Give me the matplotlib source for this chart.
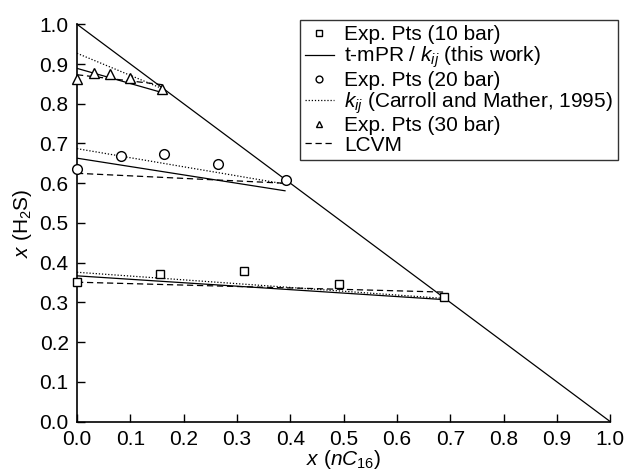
import matplotlib
matplotlib.use("Agg")
import matplotlib.pyplot as plt
import numpy as np

plt.rcParams['font.family'] = ['Liberation Sans', 'DejaVu Sans']
plt.rcParams['mathtext.fontset'] = 'custom'
plt.rcParams['mathtext.rm'] = 'Liberation Sans'
plt.rcParams['mathtext.it'] = 'Liberation Sans:italic'
plt.rcParams['mathtext.bf'] = 'Liberation Sans:bold'

# Experimental points
x10 = [0.0, 0.156, 0.313, 0.492, 0.689]
y10 = [0.351, 0.372, 0.380, 0.346, 0.313]
x20 = [0.0, 0.083, 0.164, 0.264, 0.392]
y20 = [0.635, 0.669, 0.674, 0.648, 0.607]
x30 = [0.0, 0.031, 0.061, 0.099, 0.160]
y30 = [0.862, 0.877, 0.875, 0.866, 0.838]

# Model lines (endpoints)
tmpr10_x = [0.0, 0.69]; tmpr10_y = [0.367, 0.307]
tmpr20_x = [0.0, 0.39]; tmpr20_y = [0.663, 0.581]
tmpr30_x = [0.0, 0.16]; tmpr30_y = [0.889, 0.828]
cm10_x = [0.0, 0.69]; cm10_y = [0.376, 0.310]
cm20_x = [0.0, 0.39]; cm20_y = [0.687, 0.598]
cm30_x = [0.0, 0.16]; cm30_y = [0.927, 0.838]
lcvm10_x = [0.0, 0.69]; lcvm10_y = [0.351, 0.326]
lcvm20_x = [0.0, 0.39]; lcvm20_y = [0.625, 0.600]
lcvm30_x = [0.0, 0.16]; lcvm30_y = [0.873, 0.848]

diag_x = [0.0, 1.0]; diag_y = [1.0, 0.0]

fig = plt.figure(figsize=(6.26, 4.72), dpi=100)
ax = fig.add_axes([0.123, 0.1066, 0.852, 0.842])

lw = 0.9
fs = 15
ax.plot(diag_x, diag_y, color='black', lw=lw, clip_on=False)

ms = 6
l_sq, = ax.plot(x10, y10, ls='none', marker='s', mfc='white', mec='black', ms=ms, mew=1.0, clip_on=False, zorder=5)
l_solid, = ax.plot(tmpr10_x, tmpr10_y, color='black', lw=lw)
ax.plot(tmpr20_x, tmpr20_y, color='black', lw=lw)
ax.plot(tmpr30_x, tmpr30_y, color='black', lw=lw)
l_ci, = ax.plot(x20, y20, ls='none', marker='o', mfc='white', mec='black', ms=ms + 1, mew=1.0, clip_on=False, zorder=5)
l_dot, = ax.plot(cm10_x, cm10_y, color='black', lw=lw, ls=(0, (1, 1.5)))
ax.plot(cm20_x, cm20_y, color='black', lw=lw, ls=(0, (1, 1.5)))
ax.plot(cm30_x, cm30_y, color='black', lw=lw, ls=(0, (1, 1.5)))
l_tri, = ax.plot(x30, y30, ls='none', marker='^', mfc='white', mec='black', ms=ms + 1, mew=1.0, clip_on=False, zorder=5)
l_dash, = ax.plot(lcvm10_x, lcvm10_y, color='black', lw=lw, ls=(0, (5, 3)))
ax.plot(lcvm20_x, lcvm20_y, color='black', lw=lw, ls=(0, (5, 3)))
ax.plot(lcvm30_x, lcvm30_y, color='black', lw=lw, ls=(0, (5, 3)))

ax.set_xlim(0, 1)
ax.set_ylim(0, 1)
ticks = np.round(np.arange(0, 1.01, 0.1), 1)
ax.set_xticks(ticks)
ax.set_yticks(ticks)
ax.set_xticklabels([f"{t:.1f}" for t in ticks], fontsize=fs)
ax.set_yticklabels([f"{t:.1f}" for t in ticks], fontsize=fs)
ax.tick_params(direction='in', length=6, width=1, pad=6)
for s in ['top', 'right']:
    ax.spines[s].set_visible(False)
for s in ['left', 'bottom']:
    ax.spines[s].set_linewidth(1.2)

ax.set_xlabel(r'$x$ ($nC_{16}$)', fontsize=fs, labelpad=-1)
ax.set_ylabel(r'$x$ (H$_2$S)', fontsize=fs, labelpad=4)

leg = ax.legend([l_sq, l_solid, l_ci, l_dot, l_tri, l_dash],
                ['Exp. Pts (10 bar)', r't-mPR / $k_{ij}$ (this work)', 'Exp. Pts (20 bar)',
                 r'$k_{ij}$ (Carroll and Mather, 1995)', 'Exp. Pts (30 bar)', 'LCVM'],
                loc='upper right', bbox_to_anchor=(1.015, 1.01), fontsize=fs, frameon=True, fancybox=False,
                edgecolor='black', handlelength=1.4, handletextpad=0.5, labelspacing=0.02,
                borderpad=0.25, borderaxespad=0.0, markerscale=0.7)
leg.get_frame().set_linewidth(1.0)

fig.savefig('out.png', dpi=100)
